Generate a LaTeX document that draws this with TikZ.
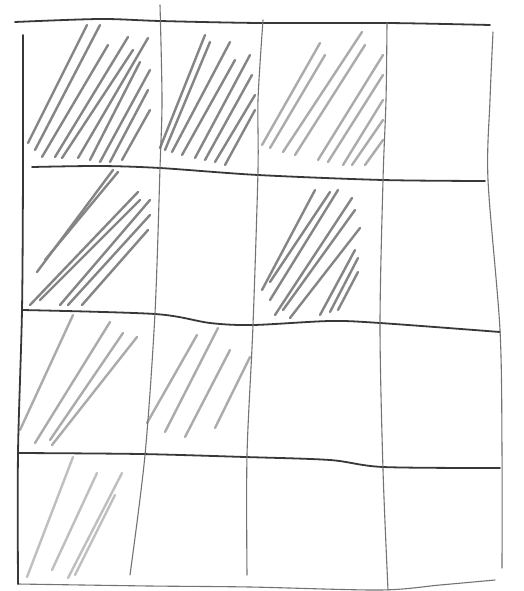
\documentclass[tikz,border=0pt]{standalone}
\usetikzlibrary{positioning}

\tikzset{
  gridline/.style={draw=black!78, line width=1.8pt, line cap=round},
  faintline/.style={draw=black!55, line width=1.1pt, line cap=round},
  hatch/.style={draw=black!48, line width=2.4pt, line cap=round},
  lighthatch/.style={hatch, draw=black!33},
}

\begin{document}
\begin{tikzpicture}[x=1pt,y=-1pt]
  \useasboundingbox[fill=white] (0,0) rectangle (524,591);

  % hatched cells
  \foreach \xa/\ya/\xb/\yb in {28/143/87/25, 35/150/100/25, 42/157/108/45, 55/157/128/37, 62/158/133/50,
      78/158/148/38, 90/160/140/62, 100/162/150/70, 110/162/148/90, 122/160/150/110}
    \draw[hatch] (\xa,\ya) -- (\xb,\yb);
  \foreach \xa/\ya/\xb/\yb in {160/148/205/35, 165/150/210/42, 172/152/230/42, 182/155/235/60,
      195/158/250/55, 205/160/252/75, 215/162/255/95, 225/165/255/110}
    \draw[hatch] (\xa,\ya) -- (\xb,\yb);
  \foreach \xa/\ya/\xb/\yb in {262/145/320/43, 270/148/325/55, 283/152/362/32, 295/155/365/45,
      318/160/383/55, 328/162/383/75, 343/165/383/100, 352/165/383/120, 365/165/383/140}
    \draw[lighthatch] (\xa,\ya) -- (\xb,\yb);
  \foreach \xa/\ya/\xb/\yb in {37/272/113/170, 45/260/118/172, 30/305/138/192, 40/300/140/200,
      60/305/150/200, 68/305/150/215, 82/305/148/230}
    \draw[hatch] (\xa,\ya) -- (\xb,\yb);
  \foreach \xa/\ya/\xb/\yb in {262/290/315/190, 270/282/330/192, 270/300/338/190, 275/315/352/198,
      283/310/355/210, 290/318/360/228, 320/315/355/250, 330/312/358/258, 338/310/358/272}
    \draw[hatch] (\xa,\ya) -- (\xb,\yb);
  \foreach \xa/\ya/\xb/\yb in {20/430/73/315, 35/443/110/322, 50/440/123/333, 52/445/137/337}
    \draw[lighthatch] (\xa,\ya) -- (\xb,\yb);
  \foreach \xa/\ya/\xb/\yb in {147/423/197/335, 165/432/218/328, 185/437/230/350, 215/428/250/357}
    \draw[lighthatch] (\xa,\ya) -- (\xb,\yb);
  \foreach \xa/\ya/\xb/\yb in {27/577/73/457, 52/570/97/473, 68/578/122/473, 75/575/115/495}
    \draw[lighthatch, draw=black!25] (\xa,\ya) -- (\xb,\yb);

  % grid
  \draw[gridline] plot[smooth] coordinates {(15,22) (100,19) (160,21) (260,23) (387,23) (490,25)};
  \draw[gridline] plot[smooth] coordinates {(32,167) (100,166) (160,168) (258,175) (383,180) (485,181)};
  \draw[gridline] plot[smooth] coordinates {(22,310) (155,314) (210,323) (253,325) (330,321) (380,323) (500,332)};
  \draw[gridline] plot[smooth] coordinates {(18,453) (140,454) (245,457) (330,460) (383,467) (500,468)};
  \draw[faintline] plot[smooth] coordinates {(18,584) (150,586) (250,587) (380,590) (440,585) (495,580)};
  \draw[gridline] plot[smooth] coordinates {(23,35) (23,168) (22,310) (18,453) (18,584)};
  \draw[faintline] plot[smooth] coordinates {(160,5) (162,100) (160,168) (155,313) (145,455) (130,575)};
  \draw[faintline] plot[smooth] coordinates {(263,20) (258,100) (258,170) (253,325) (247,455) (247,575)};
  \draw[faintline] plot[smooth] coordinates {(387,23) (386,100) (383,180) (380,325) (383,470) (388,590)};
  \draw[faintline] plot[smooth] coordinates {(493,32) (490,100) (488,180) (500,330) (502,450) (502,568)};
\end{tikzpicture}
\end{document}
